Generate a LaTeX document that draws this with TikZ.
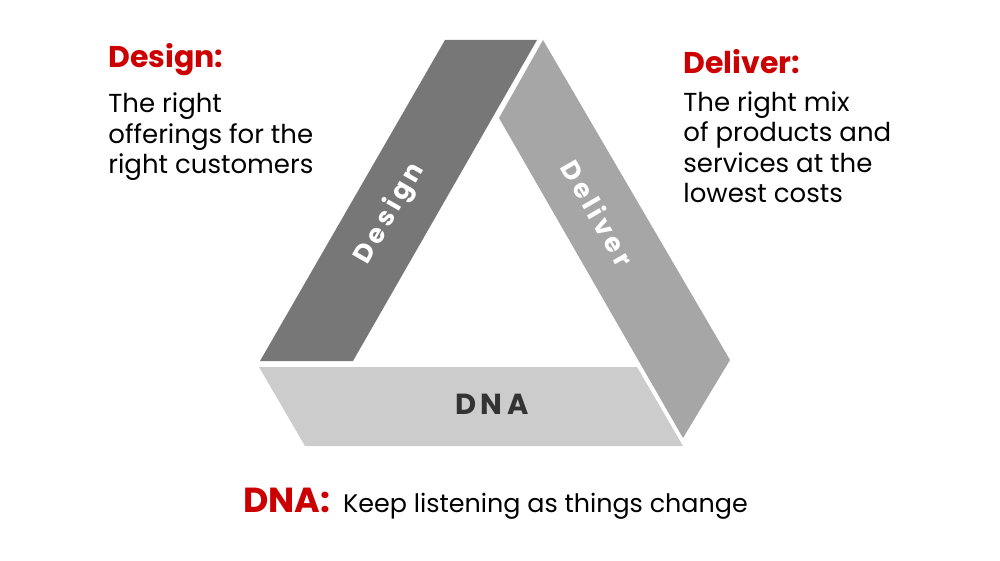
\documentclass[tikz,border=0pt]{standalone}
\usepackage{fontspec}
\setmainfont{Poppins}
\usetikzlibrary{positioning}
\definecolor{dnared}{HTML}{CC0000}
\definecolor{darkband}{HTML}{777777}
\definecolor{midband}{HTML}{A6A6A6}
\definecolor{lightband}{HTML}{CCCCCC}
\definecolor{labelgray}{HTML}{333333}

\begin{document}
\begin{tikzpicture}[x=0.5pt,y=-0.5pt,
    head/.style={text=dnared,font=\fontsize{15}{16}\selectfont\bfseries,inner sep=0pt,anchor=base west},
    body/.style={font=\fontsize{13}{15.25}\selectfont,align=left,inner sep=0pt},
    band/.style={text=white,font=\fontsize{13}{13}\selectfont\bfseries\addfontfeatures{LetterSpace=15}}]
  \useasboundingbox (0,0) rectangle (1000,561);
  % the three bands
  \fill[lightband] (259,367) -- (637,367) -- (683,446) -- (305,446) -- cycle;
  \fill[darkband] (260,361) -- (353,361) -- (537,40) -- (445,40) -- cycle;
  \fill[midband] (543,40) -- (730,360) -- (683,438) -- (499,118) -- cycle;
  \node[band,rotate=60] (design) at (390,214) {Design};
  \node[band,rotate=-60] (deliver) at (598,213) {Deliver};
  \node[band,text=labelgray,font=\fontsize{14.5}{15}\selectfont\bfseries\addfontfeatures{LetterSpace=15}] (dna) at (492,404) {DNA};
  % captions (base of a node = baseline of its last line)
  \node[head] (designhd) at (108,68) {Design:};
  \node[body,below=53pt of designhd.base west,anchor=base west] (designtx)
    {The right\\offerings for the\\right customers};
  \node[head] (deliverhd) at (683,74) {Deliver:};
  \node[body,below=64.5pt of deliverhd.base west,anchor=base west] (delivertx)
    {The right mix\\of products and\\services at the\\lowest costs};
  \node[head,font=\fontsize{17.4}{18}\selectfont\bfseries] (dnahd) at (243,512) {DNA:};
  \node[body,font=\fontsize{12.7}{15}\selectfont,right=6pt of dnahd.base east,anchor=base west] (dnatx)
    {Keep listening as things change};
\end{tikzpicture}
\end{document}
